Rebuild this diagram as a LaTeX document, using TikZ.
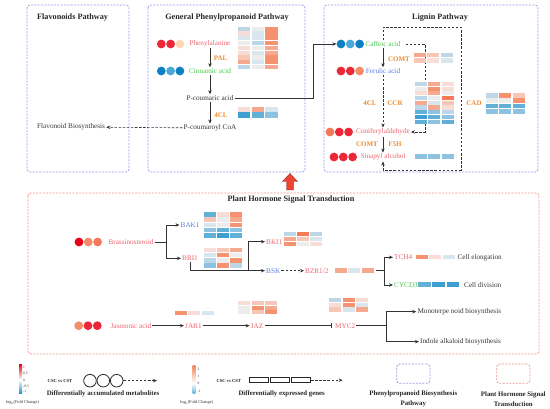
\documentclass[tikz,border=0pt]{standalone}
\usepackage{fontspec}
\setmainfont{Liberation Serif}
\usetikzlibrary{arrows.meta}
\definecolor{b1}{RGB}{63,159,208}
\definecolor{b2}{RGB}{98,176,216}
\definecolor{b3}{RGB}{141,195,224}
\definecolor{b4}{RGB}{188,216,232}
\definecolor{b5}{RGB}{217,230,238}
\definecolor{g0}{RGB}{236,236,236}
\definecolor{p5}{RGB}{247,221,213}
\definecolor{p4}{RGB}{247,198,182}
\definecolor{p3}{RGB}{246,169,143}
\definecolor{p2}{RGB}{245,146,111}
\definecolor{p1}{RGB}{243,122,85}
\definecolor{boxblue}{RGB}{150,158,236}
\definecolor{boxpink}{RGB}{242,150,150}
\definecolor{pinktxt}{RGB}{240,100,112}
\definecolor{greentxt}{RGB}{76,200,76}
\definecolor{bluetxt}{RGB}{88,128,230}
\definecolor{enzor}{RGB}{242,140,48}
\definecolor{txt}{RGB}{55,55,55}
\definecolor{cred}{RGB}{236,40,56}
\definecolor{cred2}{RGB}{230,0,26}
\definecolor{cpeach}{RGB}{252,215,180}
\definecolor{csalmon}{RGB}{244,140,105}
\definecolor{csalmon2}{RGB}{244,120,90}
\definecolor{cblue}{RGB}{14,128,194}
\definecolor{cblue2}{RGB}{72,168,216}
\definecolor{arrred}{RGB}{238,68,50}
\definecolor{arrdark}{RGB}{140,40,30}
\definecolor{lgred}{RGB}{232,20,45}
\definecolor{lgpeach}{RGB}{248,176,140}
\definecolor{lgltblue}{RGB}{150,205,232}
\definecolor{lgblue}{RGB}{25,140,200}
\definecolor{lgor}{RGB}{244,138,95}
\definecolor{lgblue2}{RGB}{100,180,220}
\newcommand\hmap[5]{%
  \foreach [count=\hr from 0] \ca/\cb/\cc in {#5} {
    \fill[\ca] ({#1},{#2+\hr*#4}) rectangle ++(#3,{#4-0.6});
    \fill[\cb] ({#1+#3+1.4},{#2+\hr*#4}) rectangle ++(#3,{#4-0.6});
    \fill[\cc] ({#1+2*#3+2.8},{#2+\hr*#4}) rectangle ++(#3,{#4-0.6});
  }}
\newcommand\hmapbg[4]{% white ground under a heatmap: x, y, cell w, total height
  \fill[white] ({#1-0.5},{#2-0.5}) rectangle ({#1+3*#3+3.3},{#2+#4});}
\begin{document}
\begin{tikzpicture}[x=1pt,y=-1pt,
  lbl/.style={font=\fontsize{7.2}{8}\selectfont, text=txt, inner sep=1pt},
  enz/.style={font=\fontsize{7}{8}\selectfont\bfseries, text=enzor, inner sep=1pt},
  ttl/.style={font=\fontsize{8.2}{9}\selectfont\bfseries, text=black!85, inner sep=0pt},
  leg/.style={font=\fontsize{6.8}{9.7}\selectfont\bfseries, text=black!85, inner sep=0pt, align=center},
  csc/.style={font=\fontsize{4.6}{5}\selectfont\bfseries, text=black!85, inner sep=0pt},
  tk/.style={font=\fontsize{3.6}{4}\selectfont, text=txt, inner sep=0pt, anchor=west},
  logl/.style={font=\fontsize{4.4}{5}\selectfont, text=txt, inner sep=0pt},
  dot/.style={circle, minimum size=8.8pt, inner sep=0pt},
  conn/.style={draw=black!80, line width=0.6pt, -{Stealth[length=4pt,width=3.4pt]}},
  dsh/.style={dash pattern=on 2.5pt off 1.6pt},
  bluebox/.style={draw=boxblue, line width=0.8pt, dash pattern=on 2pt off 1.3pt, rounded corners=3pt},
  pinkbox/.style={draw=boxpink, line width=0.8pt, dash pattern=on 2pt off 1.3pt, rounded corners=3pt},
]
\useasboundingbox (0,0) rectangle (550,409);
\fill[white] (0,0) rectangle (550,409);

% ---------- boxes ----------
\draw[bluebox] (27,5) rectangle (129,172);
\draw[bluebox] (148,5) rectangle (305,172);
\draw[bluebox] (324,5) rectangle (538,172);
\draw[pinkbox] (28,193) rectangle (539,354);

\node[ttl, anchor=west] (tflav) at (37,18) {Flavonoids Pathway};
\node[ttl] (tgpp) at (227,18) {General Phenylpropanoid Pathway};
\node[ttl] (tlig) at (440,18) {Lignin Pathway};
\node[ttl] (tpht) at (291,200) {Plant Hormone Signal Transduction};

% ---------- general phenylpropanoid ----------
\node[dot, fill=cred] (phe1) at (161.3,44) {};
\node[dot, fill=cred] (phe2) at (170.6,44) {};
\node[dot, fill=cpeach] (phe3) at (179.9,44) {};
\node[lbl, text=pinktxt] (phe) at (210,44) {Phenylalanine};
\node[enz] (pal) at (220.5,58) {PAL};
\node[dot, fill=cblue] (cin1) at (161.3,71) {};
\node[dot, fill=cblue2] (cin2) at (170.6,71) {};
\node[dot, fill=cblue] (cin3) at (179.9,71) {};
\node[lbl, text=greentxt] (cin) at (210,71) {Cinnamic acid};
\node[lbl] (pca) at (210,98) {P-coumaric acid};
\node[enz] (fcl) at (221,115) {4CL};
\node[lbl] (pcoa) at (210,128) {P-coumaroyl CoA};
\node[lbl, anchor=west] (flav) at (36,127) {Flavonoid Biosynthesis};

\hmap{237.7}{26.7}{12.4}{4.8}{b4/g0/p2, p5/b5/p2, b5/b5/p2, g0/b4/p2, p5/g0/p3, p5/b5/p3, p4/g0/p2, p3/b5/p2, b4/g0/p3}
\hmap{237.7}{106.7}{12.4}{5.8}{p5/p3/b5, b1/b2/b3}

\draw[conn] (phe) -- (cin);
\draw[conn] (cin) -- (pca);
\draw[conn] (pca) -- (pcoa);
\draw[conn, dsh] (pcoa) -- (flav);

% ---------- lignin ----------
\node[dot, fill=cblue] (caf1) at (341,44) {};
\node[dot, fill=cblue2] (caf2) at (350.3,44) {};
\node[dot, fill=cblue] (caf3) at (359.6,44) {};
\node[lbl, text=greentxt] (caf) at (383,44) {Caffeic acid};
\node[dot, fill=cred] (fer1) at (341,71) {};
\node[dot, fill=cred] (fer2) at (350.3,71) {};
\node[dot, fill=csalmon] (fer3) at (359.6,71) {};
\node[lbl, text=bluetxt] (fer) at (383,71) {Ferulic acid};
\node[dot, fill=csalmon2] (cnf1) at (330,132) {};
\node[dot, fill=cred] (cnf2) at (339.3,132) {};
\node[dot, fill=cred] (cnf3) at (348.6,132) {};
\node[lbl, text=pinktxt] (cnf) at (383,132) {Coniferylaldehyde};
\node[dot, fill=cred] (sin1) at (334,157) {};
\node[dot, fill=cred] (sin2) at (343.3,157) {};
\node[dot, fill=cred] (sin3) at (352.6,157) {};
\node[lbl, text=pinktxt] (sin) at (383,157) {Sinapyl alcohol};

\node[enz] (comt1) at (399,59) {COMT};
\node[enz] (fcl2) at (370,103) {4CL};
\node[enz] (ccr) at (395,103) {CCR};
\node[enz] (comt2) at (367,144) {COMT};
\node[enz] (f5h) at (395,144) {F5H};
\node[enz] (cad) at (474,103) {CAD};

\coordinate (k1) at (313,98);
\draw[conn] (pca) -- (k1) |- (caf1);
\draw[conn] (caf) -- (fer);
\draw[conn, dsh] (fer) -- (cnf);
\draw[conn] (cnf) -- (sin);
\coordinate (w1) at (461,27);
\coordinate (w2) at (461,170);
\draw[conn, dsh] (caf.north) |- (w1) -- (w2) -| (sin.south);
\coordinate (w3) at (425,44);
\draw[conn, dsh] ([xshift=4pt]caf.east) -- (w3) |- (cnf.east);

\hmap{414}{52.7}{12}{5.3}{p3/p4/b4, p4/p5/b5}
\hmapbg{415}{82}{12}{42.3}
\hmap{415}{82}{12}{4.7}{b4/p3/p5, g0/p2/p5, p5/p3/g0, b4/g0/p1, p3/b5/p4, b4/p3/p5, b2/b3/b4, b1/b2/b3, b2/b3/b2}
\hmap{486}{93}{12}{5.3}{b4/p2/p4, g0/g0/p2, b2/b2/b2, b3/b3/b3}
\hmap{415}{154.5}{12}{5.5}{b3/b3/b3}

% ---------- red up arrow ----------
\filldraw[fill=arrred, draw=arrdark, line width=0.4pt] (290,173.5) -- (297.5,181.5) -- (293.5,181.5) -- (293.5,190) -- (286.5,190) -- (286.5,181.5) -- (282.5,181.5) -- cycle;

% ---------- plant hormone ----------
\node[dot, fill=cred2] (bra1) at (79,242) {};
\node[dot, fill=csalmon] (bra2) at (88.3,242) {};
\node[dot, fill=csalmon2] (bra3) at (97.6,242) {};
\node[lbl, text=pinktxt] (bras) at (131,242) {Brassinosteroid};
\node[lbl, text=bluetxt, anchor=west] (bak1) at (179.5,225) {BAK1};
\node[lbl, text=pinktxt, anchor=west] (bri1) at (181,258.3) {BRI1};
\coordinate (j0) at (166,242);
\draw[conn, -] (bras) -- (j0);
\draw[conn] (j0) |- (bak1);
\draw[conn] (j0) |- (bri1);

\hmap{203.5}{212.3}{12}{5.2}{b2/p5/p2, p4/g0/p3, b5/g0/p2, b3/b2/b3, b2/b1/b2}
\hmap{203.5}{247.7}{12}{5.15}{p5/p4/p3, b5/p2/g0, b4/g0/p2, b3/p2/b4}

\node[lbl, text=pinktxt, anchor=west] (bki1) at (265,241.7) {BKI1};
\node[lbl, text=bluetxt, anchor=west] (bsk) at (265,270.7) {BSK};
\coordinate (j1) at (248.3,270.7);
\draw[conn] (bri1.south) |- (bsk);
\draw[conn] (j1) |- (bki1);
\hmap{283.5}{231.7}{12}{5}{b4/p1/b4, p3/p4/b5, p2/g0/p5}

\node[lbl, text=pinktxt, anchor=west] (bzr) at (304,270.7) {BZR1/2};
\draw[conn, dsh] (bsk) -- (bzr);
\hmap{335}{268.3}{12}{4.9}{p3/b5/p3}
\coordinate (bzrh) at (376,270.7);
\coordinate (j2) at (384.3,270.7);
\draw[conn, -] (bzrh) -- (j2);
\node[lbl, text=pinktxt, anchor=west] (tch4) at (393,257.3) {TCH4};
\node[lbl, text=greentxt, anchor=west] (cycd3) at (393,285) {CYCD3};
\draw[conn] (j2) |- (tch4);
\draw[conn] (j2) |- (cycd3);
\hmap{415.7}{255.2}{12}{4.9}{p2/p5/b5}
\node[lbl, anchor=west] (cel) at (456.3,257.3) {Cell elongation};
\hmap{418.3}{281.7}{12.7}{5.8}{b2/b1/b1}
\node[lbl, anchor=west] (cdiv) at (463,285) {Cell division};

\node[dot, fill=csalmon] (jas1) at (78.7,325.7) {};
\node[dot, fill=cred] (jas2) at (88,325.7) {};
\node[dot, fill=cred] (jas3) at (97.3,325.7) {};
\node[lbl, text=pinktxt] (jas) at (130.8,325.7) {Jasmonic acid};
\node[lbl, text=pinktxt, anchor=west] (jar1) at (184,325.7) {JAR1};
\node[lbl, text=pinktxt, anchor=west] (jaz) at (249.7,325.7) {JAZ};
\node[lbl, text=pinktxt, anchor=west] (myc2) at (334,325.7) {MYC2};
\draw[conn] (jas) -- (jar1);
\draw[conn] (jar1) -- (jaz);
\draw[conn, -{Bar[width=5pt]}, shorten >=2pt] (jaz) -- (myc2);
\hmap{175}{310.7}{12}{4.6}{p2/p5/b5}
\hmap{238.3}{301}{12}{4.7}{p5/p4/p4, g0/p2/p3, g0/p4/p2}
\hmap{329}{297.7}{12.2}{4.9}{b4/p2/p5, p5/p2/b5, p4/b5/p3}

\coordinate (j3) at (386.7,325.7);
\draw[conn, -] (myc2) -- (j3);
\node[lbl, anchor=west] (mono) at (416.3,311.7) {Monoterpe noid biosynthesis};
\node[lbl, anchor=west] (indo) at (419,341.7) {Indole alkaloid biosynthesis};
\draw[conn] (j3) |- (mono);
\draw[conn] (j3) |- (indo);

% ---------- legend ----------
\shade[top color=lgred, middle color=lgpeach, bottom color=white] (19,365) rectangle (22,380);
\shade[top color=white, middle color=lgltblue, bottom color=lgblue] (19,380) rectangle (22,394);
\node[tk] (t11) at (23,367.3) {1};
\node[tk] (t12) at (23,373.3) {0.5};
\node[tk] (t13) at (23,380) {0};
\node[tk] (t14) at (23,386) {-0.5};
\node[tk] (t15) at (23,391) {-1};
\node[logl] (lg1) at (22.5,402.7) {log\textsubscript{2}(Fold Change)};
\node[csc] (csc1) at (60,380.7) {CSC vs CST};
\node[draw=black!85, line width=0.8pt, circle, minimum size=12.6pt, inner sep=0pt] (lc1) at (90,380.7) {};
\node[draw=black!85, line width=0.8pt, circle, minimum size=12.6pt, inner sep=0pt] (lc2) at (103.3,380.7) {};
\node[draw=black!85, line width=0.8pt, circle, minimum size=12.6pt, inner sep=0pt] (lc3) at (116.7,380.7) {};
\coordinate (le1) at (157,380.7);
\draw[conn, dsh] (lc3) -- (le1);
\node[leg] (dam) at (103,394.3) {Differentially accumulated metabolites};

\shade[top color=lgor, bottom color=white] (192.7,366) rectangle (195.3,383.5);
\shade[top color=white, bottom color=lgblue2] (192.7,383.5) rectangle (195.3,393.3);
\node[tk] (t21) at (197.5,369.3) {2};
\node[tk] (t22) at (197.5,376.7) {1};
\node[tk] (t23) at (197.5,383.3) {0};
\node[tk] (t24) at (197.5,391) {-1};
\node[logl] (lg2) at (196.7,402.7) {log\textsubscript{2}(Fold Change)};
\node[csc] (csc2) at (228.8,380.7) {CSC vs CST};
\node[draw=black!85, line width=0.6pt, minimum width=19pt, minimum height=5pt, inner sep=0pt] (lr1) at (258.8,380.2) {};
\node[draw=black!85, line width=0.6pt, minimum width=19pt, minimum height=5pt, inner sep=0pt] (lr2) at (279.8,380.2) {};
\node[draw=black!85, line width=0.6pt, minimum width=19pt, minimum height=5pt, inner sep=0pt] (lr3) at (301.2,380.2) {};
\coordinate (le2) at (342.7,380.2);
\draw[conn, dsh] (lr3) -- (le2);
\node[leg] (deg) at (281.7,394.3) {Differentially expressed genes};

\node[bluebox, minimum width=33.3pt, minimum height=19.3pt, inner sep=0pt] (lb1) at (413.3,373.7) {};
\node[pinkbox, minimum width=33.3pt, minimum height=19.3pt, inner sep=0pt] (lb2) at (513.3,373.7) {};
\node[leg] (lbt1) at (413.3,399.2) {Phenylpropanoid Biosynthesis\\Pathway};
\node[leg] (lbt2) at (513.3,399.2) {Plant Hormone Signal\\Transduction};
\end{tikzpicture}
\end{document}
